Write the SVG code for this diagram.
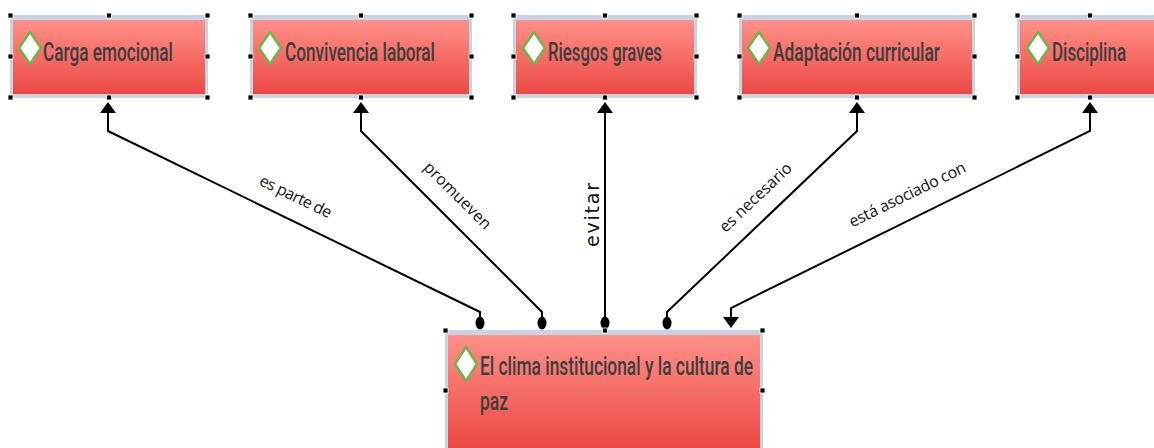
<svg xmlns="http://www.w3.org/2000/svg" width="1154" height="448" viewBox="0 0 1154 448">
<defs>
<linearGradient id="red" x1="0" y1="0" x2="0" y2="1">
<stop offset="0" stop-color="#fe9189"/>
<stop offset="1" stop-color="#ec4843"/>
</linearGradient>
</defs>
<style>
.frame{fill:#c6d5e6}
.box{fill:url(#red)}
.h{fill:#000;stroke:#fff;stroke-width:0.8}
.dia{fill:#fff;stroke:#72b248;stroke-width:2.5;stroke-linejoin:round}
.nt{font-family:"Roboto","Liberation Sans",sans-serif;font-size:25px;font-weight:500;fill:#3e3e3e}
.lbl{font-family:"Open Sans","Noto Sans",sans-serif;font-size:16px;fill:#111;text-anchor:middle;dominant-baseline:central}
.c{fill:none;stroke:#000;stroke-width:2}
.dot{fill:#000}
.tri{fill:#000}
</style>
<g id="connectors">
<path class="c" d="M480,318 V312 L108,131 V112"/>
<path class="c" d="M542,318 V312 L361,131 V112"/>
<path class="c" d="M605,318 V112"/>
<path class="c" d="M667,318 V312 L857,131 V112"/>
<path class="c" d="M731,318 V308 L1090,131 V112"/>
<path class="tri" d="M100,113 L108,102 L116,113 Z"/>
<path class="tri" d="M353,113 L361,102 L369,113 Z"/>
<path class="tri" d="M597,113 L605,102 L613,113 Z"/>
<path class="tri" d="M849,113 L857,102 L865,113 Z"/>
<path class="tri" d="M1082,113 L1090,102 L1098,113 Z"/>
<path class="tri" d="M723,317 L731,328 L739,317 Z"/>
<ellipse class="dot" cx="480" cy="323" rx="4.5" ry="6.5"/>
<ellipse class="dot" cx="542" cy="323" rx="4.5" ry="6.5"/>
<ellipse class="dot" cx="605" cy="323" rx="4.5" ry="6.5"/>
<ellipse class="dot" cx="667" cy="323" rx="4.5" ry="6.5"/>
<text class="lbl" transform="translate(296,196) rotate(25.8)" textLength="78">es parte de</text>
<text class="lbl" transform="translate(458,195) rotate(45)" textLength="88">promueven</text>
<text class="lbl" transform="translate(592,215) rotate(-90)" style="font-family:'DejaVu Sans',sans-serif;font-size:19px" textLength="64">evitar</text>
<text class="lbl" transform="translate(755,197) rotate(-43.5)" textLength="93">es necesario</text>
<text class="lbl" transform="translate(907,194) rotate(-26.1)" textLength="128">está asociado con</text>
</g>
<g id="node1">
<rect class="frame" x="10" y="15" width="198" height="83"/>
<rect class="box" x="13" y="20" width="192" height="74"/>
<path class="dia" d="M30,32 L41,48 L30,64 L19,48 Z"/>
<text class="nt" x="43" y="61" textLength="130" lengthAdjust="spacingAndGlyphs">Carga emocional</text>
<rect class="h" x="8" y="13" width="5" height="5"/><rect class="h" x="106.5" y="13" width="5" height="5"/><rect class="h" x="205" y="13" width="5" height="5"/>
<rect class="h" x="8" y="54" width="5" height="5"/><rect class="h" x="205" y="54" width="5" height="5"/>
<rect class="h" x="8" y="95" width="5" height="5"/><rect class="h" x="106.5" y="95" width="5" height="5"/><rect class="h" x="205" y="95" width="5" height="5"/>
</g>
<g id="node2">
<rect class="frame" x="250" y="15" width="222" height="83"/>
<rect class="box" x="253" y="20" width="216" height="74"/>
<path class="dia" d="M270,32 L281,48 L270,64 L259,48 Z"/>
<text class="nt" x="285" y="61" textLength="150" lengthAdjust="spacingAndGlyphs">Convivencia laboral</text>
<rect class="h" x="248" y="13" width="5" height="5"/><rect class="h" x="358.5" y="13" width="5" height="5"/><rect class="h" x="469" y="13" width="5" height="5"/>
<rect class="h" x="248" y="54" width="5" height="5"/><rect class="h" x="469" y="54" width="5" height="5"/>
<rect class="h" x="248" y="95" width="5" height="5"/><rect class="h" x="358.5" y="95" width="5" height="5"/><rect class="h" x="469" y="95" width="5" height="5"/>
</g>
<g id="node3">
<rect class="frame" x="513" y="15" width="184" height="83"/>
<rect class="box" x="516" y="20" width="178" height="74"/>
<path class="dia" d="M534,32 L545,48 L534,64 L523,48 Z"/>
<text class="nt" x="548" y="61" textLength="114" lengthAdjust="spacingAndGlyphs">Riesgos graves</text>
<rect class="h" x="511" y="13" width="5" height="5"/><rect class="h" x="602.5" y="13" width="5" height="5"/><rect class="h" x="694" y="13" width="5" height="5"/>
<rect class="h" x="511" y="54" width="5" height="5"/><rect class="h" x="694" y="54" width="5" height="5"/>
<rect class="h" x="511" y="95" width="5" height="5"/><rect class="h" x="602.5" y="95" width="5" height="5"/><rect class="h" x="694" y="95" width="5" height="5"/>
</g>
<g id="node4">
<rect class="frame" x="739" y="15" width="236" height="83"/>
<rect class="box" x="742" y="20" width="230" height="74"/>
<path class="dia" d="M759,32 L770,48 L759,64 L748,48 Z"/>
<text class="nt" x="773" y="61" textLength="167" lengthAdjust="spacingAndGlyphs">Adaptación curricular</text>
<rect class="h" x="737" y="13" width="5" height="5"/><rect class="h" x="854.5" y="13" width="5" height="5"/><rect class="h" x="972" y="13" width="5" height="5"/>
<rect class="h" x="737" y="54" width="5" height="5"/><rect class="h" x="972" y="54" width="5" height="5"/>
<rect class="h" x="737" y="95" width="5" height="5"/><rect class="h" x="854.5" y="95" width="5" height="5"/><rect class="h" x="972" y="95" width="5" height="5"/>
</g>
<g id="node5">
<rect class="frame" x="1017" y="15" width="137" height="83"/>
<rect class="box" x="1020" y="20" width="134" height="74"/>
<path class="dia" d="M1038,32 L1049,48 L1038,64 L1027,48 Z"/>
<text class="nt" transform="translate(1052,61) scale(0.705,1)" x="0" y="0" textLength="105" lengthAdjust="spacingAndGlyphs">Disciplina</text>
<rect class="h" x="1015" y="13" width="5" height="5"/><rect class="h" x="1087.5" y="13" width="5" height="5"/>
<rect class="h" x="1015" y="54" width="5" height="5"/>
<rect class="h" x="1015" y="95" width="5" height="5"/><rect class="h" x="1087.5" y="95" width="5" height="5"/>
</g>
<g id="node6">
<rect class="frame" x="445" y="330" width="318" height="118"/>
<rect class="box" x="448" y="335" width="312" height="113"/>
<path class="dia" d="M466,347 L477,364 L466,381 L455,364 Z"/>
<text class="nt" x="480" y="375" textLength="273" lengthAdjust="spacingAndGlyphs">El clima institucional y la cultura de</text>
<text class="nt" x="480" y="410" textLength="28" lengthAdjust="spacingAndGlyphs">paz</text>
<rect class="h" x="443" y="328" width="5" height="5"/><rect class="h" x="602.5" y="328" width="5" height="5"/><rect class="h" x="760" y="328" width="5" height="5"/>
<rect class="h" x="443" y="388" width="5" height="5"/><rect class="h" x="760" y="388" width="5" height="5"/>
</g>
</svg>
